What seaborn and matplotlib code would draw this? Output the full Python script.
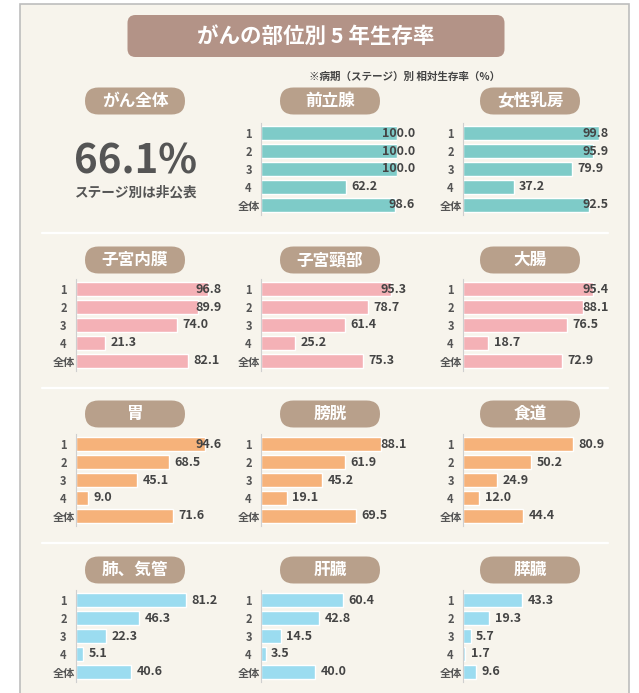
import matplotlib.pyplot as plt
import numpy as np
import pandas as pd
import seaborn as sns
from matplotlib.patches import FancyBboxPatch, Rectangle

sns.set_style("white")
plt.rcParams["font.family"] = ["Noto Sans CJK JP", "DejaVu Sans"]

W, H = 639, 693

stages = ["1", "2", "3", "4", "全体"]

prostate = [100.0, 100.0, 100.0, 62.2, 98.6]
breast = [99.8, 95.9, 79.9, 37.2, 92.5]
endometrium = [96.8, 89.9, 74.0, 21.3, 82.1]
cervix = [95.3, 78.7, 61.4, 25.2, 75.3]
colorectum = [95.4, 88.1, 76.5, 18.7, 72.9]
stomach = [94.6, 68.5, 45.1, 9.0, 71.6]
bladder = [88.1, 61.9, 45.2, 19.1, 69.5]
esophagus = [80.9, 50.2, 24.9, 12.0, 44.4]
lung = [81.2, 46.3, 22.3, 5.1, 40.6]
liver = [60.4, 42.8, 14.5, 3.5, 40.0]
pancreas = [43.3, 19.3, 5.7, 1.7, 9.6]

all_cancer = "66.1%"

# (title, values, row, col, colour)
panels = [
    ("前立腺", prostate, 0, 1, "#7ecbc8"),
    ("女性乳房", breast, 0, 2, "#7ecbc8"),
    ("子宮内膜", endometrium, 1, 0, "#f4b1b6"),
    ("子宮頸部", cervix, 1, 1, "#f4b1b6"),
    ("大腸", colorectum, 1, 2, "#f4b1b6"),
    ("胃", stomach, 2, 0, "#f6b27a"),
    ("膀胱", bladder, 2, 1, "#f6b27a"),
    ("食道", esophagus, 2, 2, "#f6b27a"),
    ("肺、気管", lung, 3, 0, "#9bdcf0"),
    ("肝臓", liver, 3, 1, "#9bdcf0"),
    ("膵臓", pancreas, 3, 2, "#9bdcf0"),
]

col_pill_x = [135, 330, 530]
row_pill_y = [101, 260, 414, 570]
col_axis_x = [76, 261, 463]
row_bar_y = [132, 288, 443, 599]
step = 18.5
scale = 1.36  # px per percent

fig = plt.figure(figsize=(W / 100, H / 100), dpi=100)
fig.patch.set_facecolor("white")

# overlay axis in pixel units for the decorations
bg = fig.add_axes([0, 0, 1, 1])
bg.set_xlim(0, W)
bg.set_ylim(H, 0)
bg.axis("off")
bg.add_patch(Rectangle((20, 4), 609, 700, facecolor="#f7f4ec", edgecolor="#bdbdbd", lw=1.2))
for y in [233, 388, 543]:
    bg.plot([42, 608], [y, y], color="white", lw=1.6)


def pill(x, y, w, h, text, color, size):
    bg.add_patch(FancyBboxPatch((x - w / 2, y - h / 2), w, h,
                                boxstyle=f"round,pad=0,rounding_size={h / 2 if h < 30 else 8}",
                                facecolor=color, edgecolor="none"))
    bg.text(x, y, text, ha="center", va="center", color="white", fontsize=size, fontweight="bold")


pill(316, 36, 377, 42, "がんの部位別 5 年生存率", "#b39387", 15.5)
bg.text(500, 77, "※病期（ステージ）別 相対生存率（%）", ha="right", va="center",
        fontsize=7.6, fontweight="bold", color="#444444")

pill(col_pill_x[0], row_pill_y[0], 100, 27, "がん全体", "#b8a08b", 12)
bg.text(136, 162, all_cancer, ha="center", va="center", fontsize=29, fontweight="bold", color="#555555")
bg.text(136, 192, "ステージ別は非公表", ha="center", va="center", fontsize=9.8,
        fontweight="bold", color="#555555")

for title, values, r, c, color in panels:
    pill(col_pill_x[c], row_pill_y[r], 100, 27, title, "#b8a08b", 12)

    top = row_bar_y[r] - step / 2
    left = col_axis_x[c]
    ax = fig.add_axes([left / W, 1 - (top + 5 * step) / H, 100 * scale / W, 5 * step / H])
    ax.patch.set_alpha(0)
    df = pd.DataFrame({"stage": stages, "rate": values})
    sns.barplot(data=df, x="rate", y="stage", orient="h", color=color, saturation=1,
                width=0.78, ax=ax)
    ax.set_xlim(0, 100)
    ax.set_ylim(4.6, -0.6)
    ax.set_xlabel("")
    ax.set_ylabel("")
    ax.set_xticks([])
    for s in ["top", "right", "bottom"]:
        ax.spines[s].set_visible(False)
    ax.spines["left"].set_color("#cfcfcf")
    ax.spines["left"].set_linewidth(0.8)
    ax.tick_params(axis="y", length=0, pad=9)
    for lab in ax.get_yticklabels():
        lab.set_ha("center")
        lab.set_fontsize(8)
        lab.set_fontweight("bold")
        lab.set_color("#555555")
    right_edge = 113 if title == "前立腺" else 107
    for i, v in enumerate(values):
        if v + 4 > 88:
            ax.text(right_edge, i, f"{v:.1f}", ha="right", va="center", fontsize=9,
                    fontweight="bold", color="#444444", clip_on=False)
        else:
            ax.text(v + 4, i, f"{v:.1f}", ha="left", va="center", fontsize=9,
                    fontweight="bold", color="#444444", clip_on=False)

fig.savefig("out.png", dpi=100)
